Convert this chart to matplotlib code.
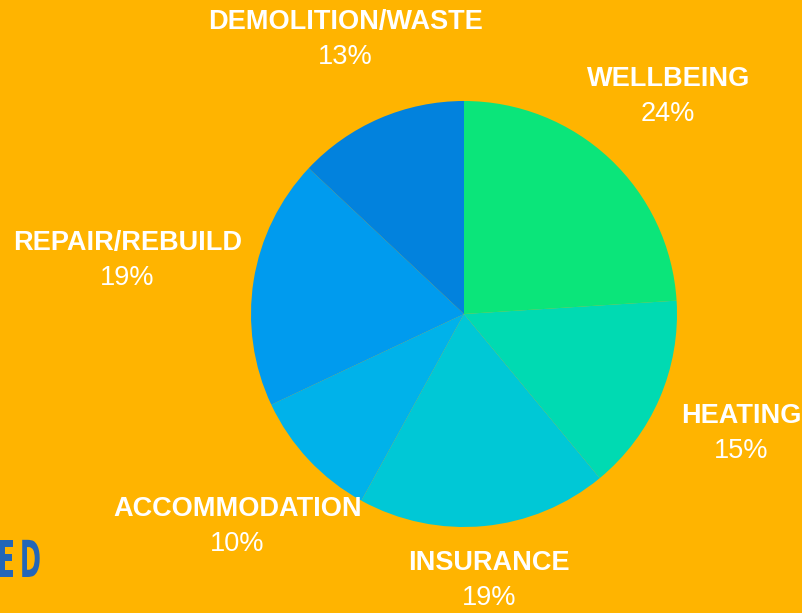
import numpy as np
import matplotlib.pyplot as plt
from matplotlib.textpath import TextPath
from matplotlib.patches import PathPatch
from matplotlib.font_manager import FontProperties
from matplotlib.transforms import Affine2D

categories = ['WELLBEING', 'HEATING', 'INSURANCE', 'ACCOMMODATION', 'REPAIR/REBUILD', 'DEMOLITION/WASTE']
shares = [24, 15, 19, 10, 19, 13]
colors = ['#0be57a', '#00dab2', '#00c8d6', '#00b2ea', '#009bee', '#0282dd']
# how far out each label sits, in radii
label_dist = [1.40, 1.42, 1.26, 1.46, 1.60, 1.40]

W, H = 803, 613
bg = '#ffb400'
cx, cy, r = 464, H - 314, 213

fig = plt.figure(figsize=(W / 100, H / 100), dpi=100, facecolor=bg)
ax = fig.add_axes([0, 0, 1, 1])
ax.set_facecolor(bg)

wedges, _ = ax.pie(shares, colors=colors, startangle=90, counterclock=False,
                   center=(cx, cy), radius=r,
                   wedgeprops=dict(linewidth=0))

for w, name, pct, d in zip(wedges, categories, shares, label_dist):
    mid = np.deg2rad((w.theta1 + w.theta2) / 2)
    x = cx + d * r * np.cos(mid)
    y = cy + d * r * np.sin(mid)
    ax.text(x, y + 18, name, ha='center', va='center', color='white',
            fontsize=19.5, fontweight='bold', family='Liberation Sans')
    ax.text(x, y - 17, f'{pct}%', ha='center', va='center', color='white',
            fontsize=19.5, family='Liberation Sans')

# cut-off heading text at the lower left, in a narrow condensed look
fp = FontProperties(family='DejaVu Sans', weight='bold')
x0 = 0
for ch in 'ED':
    tp = TextPath((0, 0), ch, size=51, prop=fp)
    ext = tp.get_extents()
    tr = Affine2D().translate(-ext.x0, 0).scale(0.5, 1).translate(x0, H - 577)
    ax.add_patch(PathPatch(tr.transform_path(tp), fc='#2366b8', ec='none'))
    x0 += ext.width * 0.5 + 9

ax.set_xlim(0, W)
ax.set_ylim(0, H)
ax.set_aspect('equal')
ax.axis('off')

fig.savefig('out.png', dpi=100, facecolor=bg)
